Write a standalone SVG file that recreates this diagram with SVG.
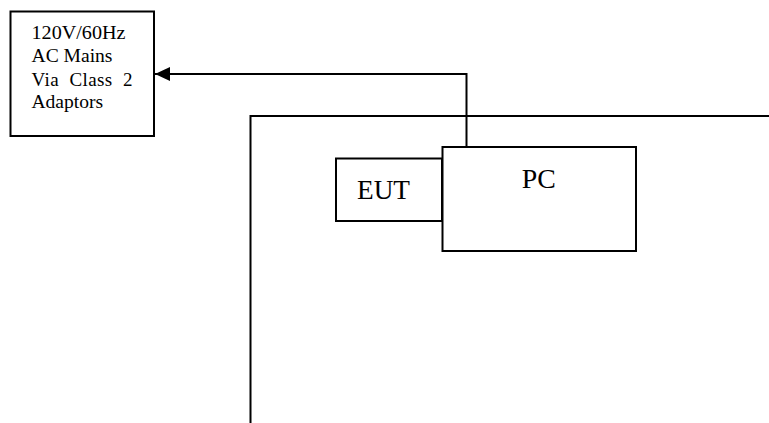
<svg xmlns="http://www.w3.org/2000/svg" width="769" height="423" viewBox="0 0 769 423">
<style>
.box{fill:#fff;stroke:#000;stroke-width:2}
.ln{fill:none;stroke:#000;stroke-width:2}
.t{font-family:"Liberation Serif","Times New Roman",serif;fill:#000}
</style>
<defs>
<marker id="ah" markerWidth="16" markerHeight="14" refX="15" refY="7" orient="auto" markerUnits="userSpaceOnUse">
<path d="M0,0 L15,7 L0,14 Z" fill="#000"/>
</marker>
</defs>
<rect width="769" height="423" fill="#fff"/>
<g id="enclosure">
<path class="ln" d="M250.5,423 L250.5,116 L769,116"/>
</g>
<g id="mains">
<rect class="box" x="10.5" y="11.5" width="143.5" height="124.5"/>
<text class="t" font-size="19" x="31.5" y="39.3" textLength="94" lengthAdjust="spacingAndGlyphs">120V/60Hz</text>
<text class="t" font-size="19" x="31.5" y="62.3" textLength="81" lengthAdjust="spacingAndGlyphs">AC Mains</text>
<text class="t" font-size="19" x="31.5" y="85.7" textLength="101" lengthAdjust="spacing" xml:space="preserve">Via  Class  2</text>
<text class="t" font-size="19" x="31.5" y="108.3" textLength="71.6" lengthAdjust="spacingAndGlyphs">Adaptors</text>
</g>
<g id="eut">
<rect class="box" x="336" y="158.5" width="106" height="62.5"/>
<text class="t" font-size="28" x="357" y="199.3" textLength="53" lengthAdjust="spacingAndGlyphs">EUT</text>
</g>
<g id="pc">
<rect class="box" x="442.5" y="147" width="193.5" height="104"/>
<text class="t" font-size="28" x="521.7" y="187.7" textLength="34" lengthAdjust="spacingAndGlyphs">PC</text>
</g>
<g id="connectors">
<path class="ln" d="M466.5,147 L466.5,74 L155,74" marker-end="url(#ah)"/>
</g>
</svg>
